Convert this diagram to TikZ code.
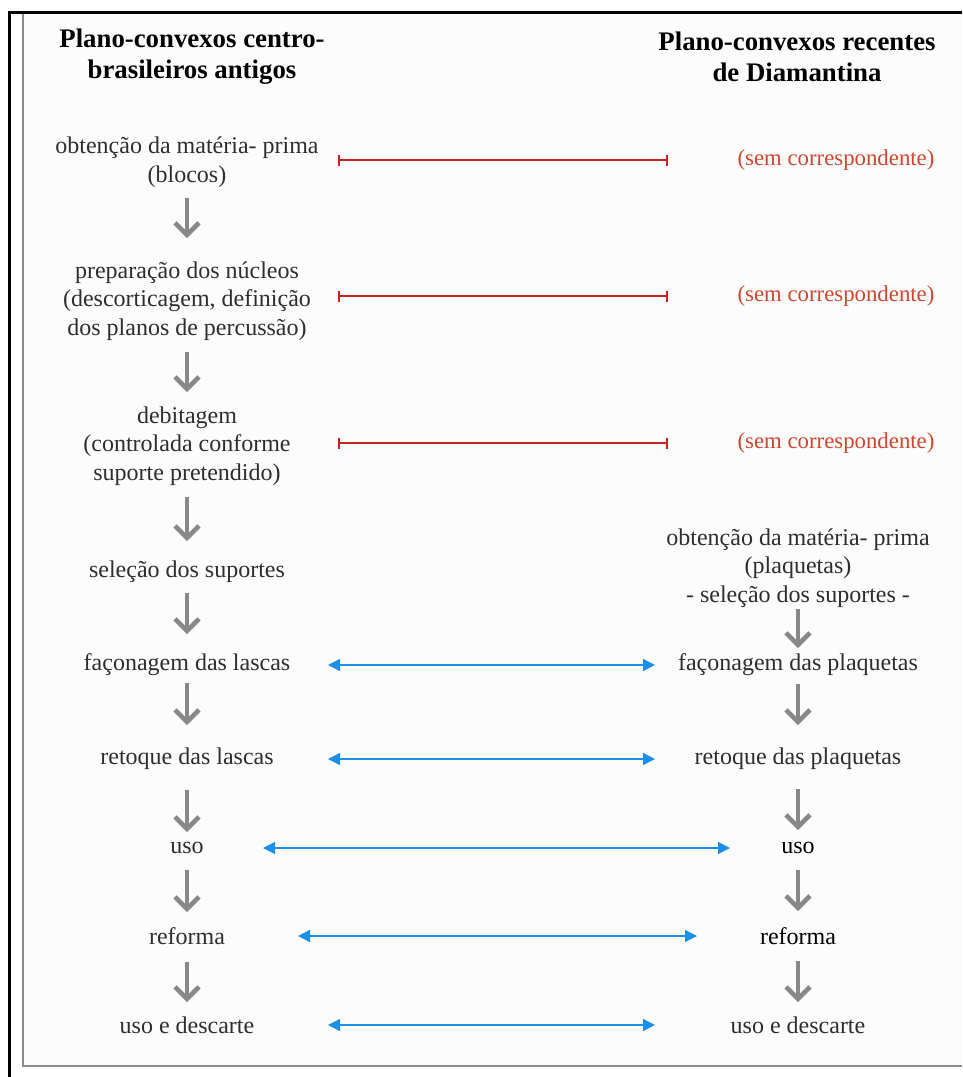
\documentclass[tikz,border=0pt]{standalone}
\usepackage{fontspec}
\setmainfont{Liberation Serif}
\usetikzlibrary{positioning,arrows.meta}

\definecolor{textgrey}{HTML}{2E2E2E}
\definecolor{arrowgrey}{HTML}{888888}
\definecolor{framegrey}{HTML}{8C8C8C}
\definecolor{panel}{HTML}{FCFCFC}
\definecolor{barred}{HTML}{CC1F1F}
\definecolor{redtxt}{HTML}{D0452E}
\definecolor{blueline}{HTML}{1C8FE6}

\tikzset{
  stage/.style={font=\fontsize{24}{28.5}\selectfont, text=textgrey, align=center, inner sep=0pt},
  head/.style={font=\bfseries\fontsize{26.8}{31}\selectfont, text=black, align=center, inner sep=0pt},
  nomatch/.style={font=\fontsize{22.8}{28}\selectfont, text=redtxt, inner sep=0pt},
  downarrow/.style={draw=arrowgrey, line width=4.5pt, -{Straight Barb[length=12pt,width=24pt]}},
  redbar/.style={draw=barred, line width=2.3pt, {Bar[width=11pt]}-{Bar[width=11pt]}},
  bluearrow/.style={draw=blueline, line width=1.4pt, {Triangle[length=12pt,width=12pt]}-{Triangle[length=12pt,width=12pt]}}
}

\begin{document}
\begin{tikzpicture}[x=1pt,y=-1pt]

\useasboundingbox (0,0) rectangle (962,1077);
\fill[white] (0,0) rectangle (962,1077);

% frame
\fill[panel] (23,14) rectangle (962,1066);
\draw[framegrey, line width=1.5pt] (962,1066) -- (23,1066) -- (23,14);
\draw[black, line width=3pt] (9,1077) -- (9,12) -- (962,12);

% headings
\node[head] (hl) at (192,57) {Plano-convexos centro-\\brasileiros antigos};
\node[head] (hr) at (797,57) {Plano-convexos recentes\\de Diamantina};

% left column
\node[stage] (l1) at (187,162) {obtenção da matéria- prima\\(blocos)};
\node[stage] (l2) at (187,301) {preparação dos núcleos\\(descorticagem, definição\\dos planos de percussão)};
\node[stage] (l3) at (187,446) {debitagem\\(controlada conforme\\suporte pretendido)};
\node[stage] (l4) at (187,572) {seleção dos suportes};
\node[stage] (l5) at (187,665) {façonagem das lascas};
\node[stage] (l6) at (187,759) {retoque das lascas};
\node[stage] (l7) at (187,848) {uso};
\node[stage] (l8) at (187,936) {reforma};
\node[stage] (l9) at (187,1025) {uso e descarte};

% right column
\node[nomatch] (r1) at (836,160) {(sem correspondente)};
\node[nomatch] (r2) at (836,296) {(sem correspondente)};
\node[nomatch] (r3) at (836,443) {(sem correspondente)};
\node[stage] (r4) at (798,568) {obtenção da matéria- prima\\(plaquetas)\\- seleção dos suportes -};
\node[stage] (r5) at (798,665) {façonagem das plaquetas};
\node[stage] (r6) at (798,759) {retoque das plaquetas};
\node[stage, text=black] (r7) at (798,848) {uso};
\node[stage, text=black] (r8) at (798,936) {reforma};
\node[stage] (r9) at (798,1025) {uso e descarte};

% sequence arrows
\draw[downarrow, shorten <=36pt, shorten >=63pt] (l1.center) -- (l2.center);
\draw[downarrow, shorten <=51pt, shorten >=54pt] (l2.center) -- (l3.center);
\draw[downarrow, shorten <=51pt, shorten >=31pt] (l3.center) -- (l4.center);
\draw[downarrow, shorten <=21pt, shorten >=31pt] (l4.center) -- (l5.center);
\draw[downarrow, shorten <=18pt, shorten >=34pt] (l5.center) -- (l6.center);
\draw[downarrow, shorten <=31pt, shorten >=16pt] (l6.center) -- (l7.center);
\draw[downarrow, shorten <=22pt, shorten >=24pt] (l7.center) -- (l8.center);
\draw[downarrow, shorten <=26pt, shorten >=23pt] (l8.center) -- (l9.center);

\draw[downarrow, shorten <=41pt, shorten >=17pt] (r4.center) -- (r5.center);
\draw[downarrow, shorten <=19pt, shorten >=34pt] (r5.center) -- (r6.center);
\draw[downarrow, shorten <=30pt, shorten >=18pt] (r6.center) -- (r7.center);
\draw[downarrow, shorten <=22pt, shorten >=25pt] (r7.center) -- (r8.center);
\draw[downarrow, shorten <=25pt, shorten >=23pt] (r8.center) -- (r9.center);

% no correspondence
\draw[redbar, shorten <=151pt, shorten >=168pt] (l1.center |- r1.center) -- (r1.center);
\draw[redbar, shorten <=151pt, shorten >=168pt] (l2.center |- r2.center) -- (r2.center);
\draw[redbar, shorten <=151pt, shorten >=168pt] (l3.center |- r3.center) -- (r3.center);

% correspondences
\draw[bluearrow, shorten <=141pt, shorten >=143pt] (l5.center) -- (r5.center);
\draw[bluearrow, shorten <=141pt, shorten >=143pt] (l6.center) -- (r6.center);
\draw[bluearrow, shorten <=76pt, shorten >=68pt] (l7.center) -- (r7.center);
\draw[bluearrow, shorten <=111pt, shorten >=101pt] (l8.center) -- (r8.center);
\draw[bluearrow, shorten <=141pt, shorten >=143pt] (l9.center) -- (r9.center);

\end{tikzpicture}
\end{document}
